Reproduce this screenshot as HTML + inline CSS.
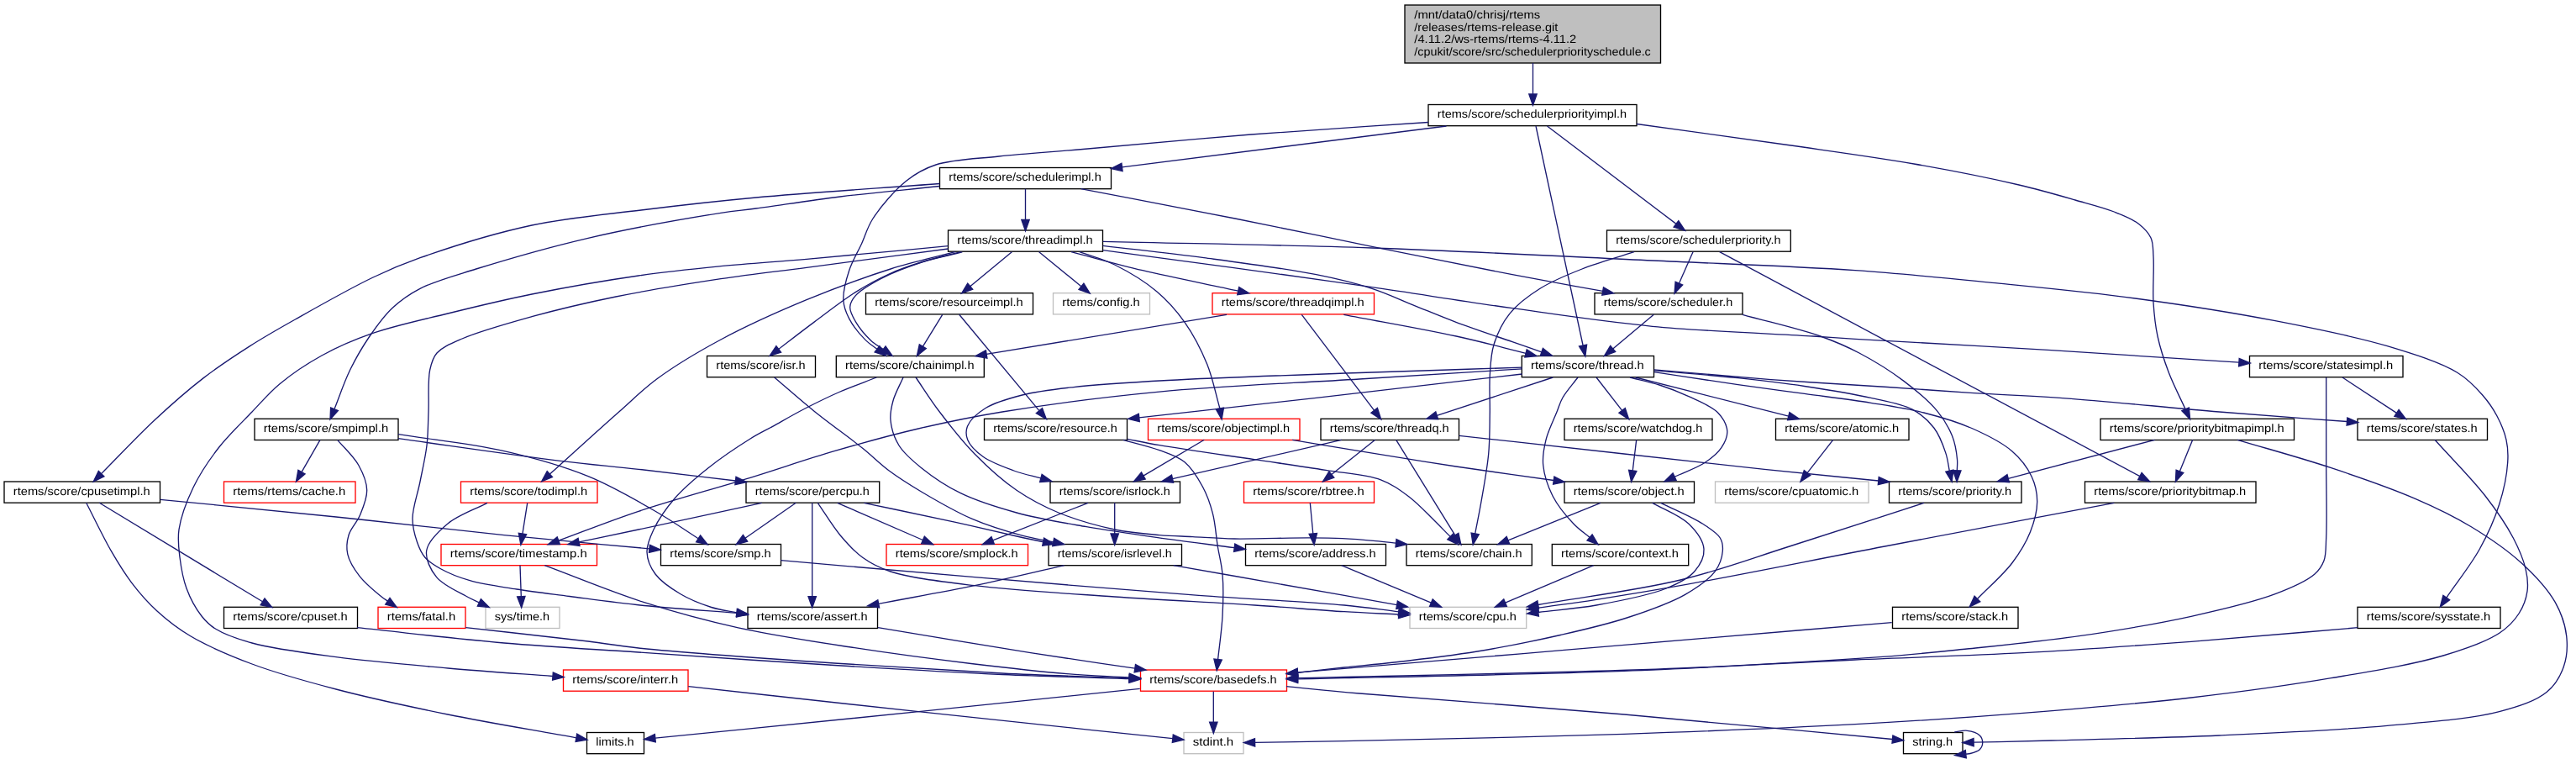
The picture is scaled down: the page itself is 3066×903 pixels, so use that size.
<!DOCTYPE html><html><head><meta charset="utf-8"><title>Include dependency graph</title><style>
html,body{margin:0;padding:0;background:#fff}svg{display:block}
text{font-family:"Liberation Sans",sans-serif;font-size:13.6px;fill:#000;text-rendering:geometricPrecision}
.e path{fill:none;stroke:#191970;stroke-width:1.33}.e polygon{fill:#191970;stroke:#191970;stroke-width:1.33}
rect{fill:#fff;stroke-width:1.33}
</style></head><body>
<svg width="3066" height="903" viewBox="0 0 3066 903">
<rect x="0" y="0" width="3066" height="903" style="fill:#fff;stroke:none"/>
<rect x="1672" y="6" width="304.5" height="69" style="fill:#bfbfbf;stroke:#000"/>
<rect x="1700.0" y="124.5" width="248.0" height="25.2" style="stroke:#000000"/>
<rect x="1118.5" y="199.5" width="204.0" height="25.2" style="stroke:#000000"/>
<rect x="1128.5" y="274.0" width="184.0" height="25.2" style="stroke:#000000"/>
<rect x="1912.5" y="274.0" width="218.8" height="25.2" style="stroke:#000000"/>
<rect x="1030.5" y="348.7" width="199.0" height="25.2" style="stroke:#000000"/>
<rect x="1253.5" y="348.7" width="115.0" height="25.2" style="stroke:#bfbfbf"/>
<rect x="1443.0" y="348.7" width="192.5" height="25.2" style="stroke:#ff0000"/>
<rect x="1898.0" y="348.7" width="176.0" height="25.2" style="stroke:#000000"/>
<rect x="841.5" y="423.5" width="129.0" height="25.2" style="stroke:#000000"/>
<rect x="995.3" y="423.5" width="176.0" height="25.2" style="stroke:#000000"/>
<rect x="1811.3" y="423.5" width="157.2" height="25.2" style="stroke:#000000"/>
<rect x="2677.5" y="423.5" width="182.5" height="25.2" style="stroke:#000000"/>
<rect x="303.0" y="498.3" width="171.0" height="25.2" style="stroke:#000000"/>
<rect x="1171.5" y="498.3" width="170.0" height="25.2" style="stroke:#000000"/>
<rect x="1366.5" y="498.3" width="180.5" height="25.2" style="stroke:#ff0000"/>
<rect x="1572.0" y="498.3" width="164.5" height="25.2" style="stroke:#000000"/>
<rect x="1862.0" y="498.3" width="176.0" height="25.2" style="stroke:#000000"/>
<rect x="2113.5" y="498.3" width="158.5" height="25.2" style="stroke:#000000"/>
<rect x="2500.0" y="498.3" width="230.5" height="25.2" style="stroke:#000000"/>
<rect x="2806.0" y="498.3" width="154.5" height="25.2" style="stroke:#000000"/>
<rect x="5.0" y="573.0" width="185.5" height="25.2" style="stroke:#000000"/>
<rect x="266.5" y="573.0" width="156.5" height="25.2" style="stroke:#ff0000"/>
<rect x="548.5" y="573.0" width="162.5" height="25.2" style="stroke:#ff0000"/>
<rect x="888.0" y="573.0" width="158.7" height="25.2" style="stroke:#000000"/>
<rect x="1250.0" y="573.0" width="154.5" height="25.2" style="stroke:#000000"/>
<rect x="1480.5" y="573.0" width="155.0" height="25.2" style="stroke:#ff0000"/>
<rect x="1862.0" y="573.0" width="154.5" height="25.2" style="stroke:#000000"/>
<rect x="2041.5" y="573.0" width="182.5" height="25.2" style="stroke:#bfbfbf"/>
<rect x="2248.5" y="573.0" width="157.5" height="25.2" style="stroke:#000000"/>
<rect x="2481.5" y="573.0" width="203.5" height="25.2" style="stroke:#000000"/>
<rect x="525.0" y="647.5" width="185.5" height="25.2" style="stroke:#ff0000"/>
<rect x="786.5" y="647.5" width="143.0" height="25.2" style="stroke:#000000"/>
<rect x="1055.0" y="647.5" width="168.5" height="25.2" style="stroke:#ff0000"/>
<rect x="1248.0" y="647.5" width="158.5" height="25.2" style="stroke:#000000"/>
<rect x="1482.5" y="647.5" width="167.0" height="25.2" style="stroke:#000000"/>
<rect x="1674.0" y="647.5" width="149.3" height="25.2" style="stroke:#000000"/>
<rect x="1847.3" y="647.5" width="162.4" height="25.2" style="stroke:#000000"/>
<rect x="266.5" y="722.3" width="159.0" height="25.2" style="stroke:#000000"/>
<rect x="450.0" y="722.3" width="104.0" height="25.2" style="stroke:#ff0000"/>
<rect x="578.0" y="722.3" width="88.0" height="25.2" style="stroke:#bfbfbf"/>
<rect x="890.0" y="722.3" width="154.5" height="25.2" style="stroke:#000000"/>
<rect x="1678.0" y="722.3" width="138.7" height="25.2" style="stroke:#bfbfbf"/>
<rect x="2252.5" y="722.3" width="149.5" height="25.2" style="stroke:#000000"/>
<rect x="2806.0" y="722.3" width="170.0" height="25.2" style="stroke:#000000"/>
<rect x="670.5" y="797.0" width="148.5" height="25.2" style="stroke:#ff0000"/>
<rect x="1357.5" y="797.0" width="174.0" height="25.2" style="stroke:#ff0000"/>
<rect x="698.5" y="871.5" width="68.0" height="25.2" style="stroke:#000000"/>
<rect x="1409.0" y="871.5" width="71.0" height="25.2" style="stroke:#bfbfbf"/>
<rect x="2265.5" y="871.5" width="70.5" height="25.2" style="stroke:#000000"/>
<g class="e">
<path d="M1824.5,75.0L1824.5,111.9"/><polygon points="1824.5,125.2 1819.8,111.9 1829.2,111.9"/>
<path d="M1700.0,145.5C1629.7,150.3 1558.4,154.6 1489.0,160.0C1421.4,165.3 1344.2,172.7 1289.0,177.5C1250.0,180.9 1219.9,182.6 1189.0,186.0C1162.2,188.9 1133.8,189.5 1114.0,196.0C1099.6,200.7 1090.3,206.0 1079.0,215.0C1065.1,226.0 1048.2,245.8 1039.0,260.0C1032.2,270.5 1030.1,279.9 1025.5,290.0C1020.7,300.4 1014.3,310.6 1010.7,321.7C1007.0,333.0 1003.2,346.9 1003.8,357.3C1004.3,365.5 1006.9,371.9 1010.7,379.1C1015.2,387.7 1024.1,398.5 1030.5,404.9C1035.1,409.5 1039.5,411.8 1044.0,415.3"/><polygon points="1054.6,423.4 1041.1,419.0 1046.9,411.6"/>
<path d="M1721.5,150.0L1335.5,198.9"/><polygon points="1322.3,200.6 1334.9,194.3 1336.1,203.6"/>
<path d="M1828.0,150.0L1884.1,411.0"/><polygon points="1886.8,424.0 1879.5,412.0 1888.6,410.0"/>
<path d="M1841.5,150.0L1995.0,266.4"/><polygon points="2005.6,274.4 1992.1,270.1 1997.8,262.6"/>
<path d="M1948.0,147.5C2008.0,155.8 2070.8,164.2 2128.0,172.5C2180.3,180.1 2230.4,186.7 2278.0,195.0C2321.7,202.6 2367.9,211.8 2403.0,220.0C2428.9,226.1 2449.8,232.2 2470.0,238.0C2486.9,242.8 2502.9,246.7 2516.3,252.0C2527.2,256.3 2537.4,260.2 2545.0,266.0C2551.4,270.9 2557.0,276.5 2560.0,283.0C2563.0,289.5 2562.4,296.0 2563.0,305.0C2564.0,319.2 2562.0,343.2 2563.0,360.0C2563.9,374.4 2565.1,386.5 2568.0,400.0C2571.1,414.3 2575.9,429.0 2581.3,443.3C2586.9,458.0 2594.5,472.3 2601.1,486.8"/><polygon points="2606.6,498.9 2596.8,488.8 2605.4,484.9"/>
<path d="M1118.5,218.5C1045.7,224.0 964.3,229.1 900.0,235.0C849.0,239.7 808.0,244.4 763.0,250.0C719.1,255.4 676.2,258.8 633.0,268.0C588.6,277.5 534.6,294.5 500.0,306.7C477.1,314.8 464.7,320.1 444.0,330.0C416.7,343.0 378.0,365.0 351.4,380.0C330.9,391.5 315.5,400.2 297.6,411.6C279.1,423.4 260.6,435.5 242.3,449.6C222.7,464.7 203.3,481.8 183.8,500.0C162.8,519.6 141.7,542.4 120.6,563.6"/><polygon points="111.2,573.0 117.3,560.3 123.9,566.9"/>
<path d="M1118.5,221.5C1079.0,225.7 1037.8,229.4 1000.0,234.0C965.2,238.3 926.2,244.5 900.0,248.0C883.0,250.3 876.4,250.4 858.0,253.3C822.1,259.0 750.2,271.6 700.0,283.3C653.5,294.1 603.4,308.6 566.7,320.0C540.5,328.2 517.9,334.1 500.0,343.3C486.4,350.3 476.6,357.4 466.7,366.7C456.6,376.2 448.2,388.1 440.0,400.0C431.5,412.4 423.6,425.9 416.7,440.0C409.5,454.7 404.2,471.1 398.0,486.6"/><polygon points="393.0,498.9 393.6,484.9 402.4,488.4"/>
<path d="M1220.5,224.7L1220.5,261.4"/><polygon points="1220.5,274.7 1215.8,261.4 1225.2,261.4"/>
<path d="M1286.5,224.7C1347.7,236.5 1410.7,248.2 1470.0,260.0C1526.0,271.1 1578.3,282.2 1633.0,293.3C1688.3,304.5 1750.4,317.2 1800.0,326.7C1839.8,334.3 1871.7,339.9 1907.6,346.4"/><polygon points="1920.7,348.8 1906.8,351.1 1908.5,341.8"/>
<path d="M1128.5,292.7C1072.3,297.9 1009.2,304.0 960.0,308.3C921.8,311.6 891.6,313.4 858.0,316.7C825.0,320.0 794.7,323.0 760.0,328.0C720.3,333.7 672.7,342.0 633.0,350.0C597.6,357.1 565.4,365.0 533.0,373.0C502.1,380.6 469.6,387.4 443.0,396.7C420.6,404.5 401.7,412.7 383.0,423.0C365.1,432.9 347.4,444.7 333.0,456.7C320.3,467.2 311.4,478.1 300.0,490.0C287.2,503.3 271.8,517.8 260.0,533.0C248.5,547.8 237.9,563.6 230.0,580.0C222.3,596.0 215.3,614.9 213.0,630.0C211.2,642.0 212.6,651.7 214.0,663.0C215.5,675.0 217.7,688.3 222.0,700.0C226.3,711.6 233.3,724.5 240.0,733.0C245.2,739.6 249.3,743.7 256.7,748.3C267.3,754.9 282.3,760.2 300.0,765.0C326.2,772.2 364.2,776.9 400.0,781.7C441.2,787.2 489.6,791.1 533.3,795.0C575.5,798.7 616.4,801.4 657.9,804.5"/><polygon points="671.2,805.6 657.6,809.2 658.3,799.9"/>
<path d="M1128.5,296.0C1072.3,303.4 1009.2,311.8 960.0,318.3C921.8,323.3 893.7,326.3 858.0,331.7C818.4,337.7 772.2,345.0 733.0,353.0C697.7,360.2 664.6,368.0 633.0,376.7C603.9,384.8 570.4,394.1 550.0,403.0C537.1,408.6 526.4,412.8 520.0,420.0C515.0,425.7 513.5,431.6 511.7,440.0C508.9,452.7 510.7,474.3 510.0,490.0C509.4,504.1 509.6,516.5 508.0,530.0C506.3,544.1 502.8,558.6 500.0,573.0C497.2,587.5 491.1,603.7 491.0,616.7C490.9,627.1 493.7,636.8 496.5,645.0C498.9,651.9 501.3,657.8 505.7,663.0C510.5,668.6 517.3,672.8 525.0,677.0C534.5,682.3 546.2,686.9 559.2,690.7C575.3,695.4 595.8,697.9 615.0,701.0C635.3,704.2 655.2,706.5 678.0,709.5C705.0,713.0 735.5,717.3 766.7,720.5C801.4,724.0 840.2,726.4 876.9,729.3"/><polygon points="890.2,730.4 876.6,734.0 877.3,724.6"/>
<path d="M1136.7,299.7C1111.1,306.5 1087.0,311.5 1060.0,320.0C1028.7,329.9 993.2,342.9 960.0,356.7C925.9,370.8 889.0,387.4 858.0,404.0C830.6,418.7 804.5,434.3 783.0,450.0C765.1,463.1 754.3,474.5 736.7,490.0C713.1,510.8 681.8,539.4 654.4,564.1"/><polygon points="644.5,573.0 651.2,560.6 657.5,567.6"/>
<path d="M1143.3,299.7C1128.1,303.6 1112.3,307.0 1097.8,311.5C1084.0,315.8 1071.2,320.1 1058.2,326.0C1044.8,332.0 1032.2,338.8 1018.6,347.4C1002.7,357.4 984.9,371.4 969.1,383.1C954.4,394.0 940.8,404.6 926.7,415.4"/><polygon points="916.1,423.4 923.9,411.6 929.6,419.1"/>
<path d="M1145.3,299.9C1129.5,303.9 1113.6,306.7 1097.8,311.8C1081.3,317.1 1062.4,324.2 1048.3,331.6C1036.8,337.7 1024.6,344.6 1018.6,351.4C1014.6,355.9 1011.9,360.2 1011.7,365.2C1011.4,370.7 1015.1,377.1 1018.6,383.1C1022.8,390.3 1030.4,399.2 1036.4,404.9C1041.3,409.5 1046.3,412.1 1051.3,415.6"/><polygon points="1062.1,423.4 1048.5,419.4 1054.0,411.8"/>
<path d="M1204.3,299.7L1154.7,340.7"/><polygon points="1144.5,349.1 1151.7,337.1 1157.7,344.3"/>
<path d="M1236.7,299.7L1286.9,340.7"/><polygon points="1297.2,349.1 1284.0,344.4 1289.9,337.1"/>
<path d="M1275.0,299.7C1303.3,307.0 1329.5,314.5 1360.0,321.7C1395.1,330.0 1435.8,337.9 1473.7,346.1"/><polygon points="1486.7,348.8 1472.7,350.7 1474.7,341.5"/>
<path d="M1285.0,299.7C1298.9,304.8 1312.6,308.0 1326.7,315.0C1343.0,323.1 1362.4,334.7 1376.7,346.7C1389.8,357.7 1400.2,369.5 1410.0,383.3C1420.4,398.1 1429.7,416.0 1436.7,433.3C1443.6,450.3 1446.8,468.4 1451.9,485.9"/><polygon points="1454.1,499.0 1447.2,486.7 1456.5,485.1"/>
<path d="M1312.7,292.3C1352.8,297.1 1391.9,301.2 1433.0,306.7C1476.4,312.5 1530.0,319.4 1566.7,326.7C1592.8,331.9 1612.7,336.7 1633.0,343.3C1651.1,349.1 1666.3,356.6 1683.0,363.3C1699.7,370.0 1715.0,376.6 1733.0,383.3C1753.6,391.0 1781.3,400.2 1800.0,406.7C1813.5,411.4 1823.2,414.8 1834.8,418.8"/><polygon points="1847.4,423.2 1833.3,423.3 1836.4,414.4"/>
<path d="M1312.7,297.7C1364.0,304.6 1414.4,311.1 1466.7,318.3C1521.1,325.8 1577.5,333.6 1633.0,341.7C1688.6,349.8 1744.3,358.9 1800.0,366.7C1855.6,374.5 1909.1,382.8 1966.7,388.3C2028.2,394.2 2114.9,397.3 2158.0,400.0C2180.1,401.4 2185.2,401.9 2208.0,403.3C2257.2,406.3 2364.4,412.0 2441.3,416.7C2516.6,421.3 2590.4,426.4 2664.9,431.2"/><polygon points="2678.2,432.0 2664.6,435.9 2665.2,426.5"/>
<path d="M1312.7,287.3C1419.5,289.9 1525.1,291.3 1633.0,295.0C1743.2,298.8 1864.7,305.2 1967.0,310.0C2053.9,314.1 2135.1,316.7 2208.0,321.7C2268.7,325.9 2319.2,331.2 2374.7,336.7C2430.3,342.3 2485.9,347.5 2541.3,355.0C2597.0,362.5 2655.7,371.6 2708.0,381.7C2755.1,390.8 2802.4,400.0 2841.3,411.7C2872.7,421.1 2904.6,431.1 2924.7,443.3C2938.2,451.5 2946.5,460.7 2954.7,470.0C2961.8,478.1 2967.3,486.1 2972.0,495.0C2976.7,503.9 2980.9,513.8 2983.0,523.3C2985.0,532.2 2985.4,539.8 2984.7,550.0C2983.8,564.1 2980.0,583.4 2974.7,600.0C2969.1,617.8 2961.1,635.6 2951.3,653.3C2940.5,672.7 2925.0,691.8 2911.8,711.1"/><polygon points="2904.3,722.1 2907.9,708.4 2915.7,713.7"/>
<path d="M1945.0,299.7C1924.3,306.5 1902.3,312.4 1883.0,320.0C1865.2,327.0 1847.8,333.9 1833.0,343.3C1819.3,351.9 1806.0,361.7 1796.7,373.3C1788.0,384.1 1781.9,397.4 1778.0,410.0C1774.3,421.9 1774.1,433.9 1773.3,446.7C1772.4,460.5 1773.5,475.0 1773.3,490.0C1773.0,506.1 1773.3,522.9 1771.7,540.0C1770.0,558.4 1765.9,579.7 1763.0,596.7C1760.6,610.7 1758.1,622.2 1755.7,634.9"/><polygon points="1753.2,648.0 1751.1,634.0 1760.3,635.8"/>
<path d="M2015.0,299.7L1998.4,337.2"/><polygon points="1993.0,349.3 1994.1,335.3 2002.7,339.1"/>
<path d="M2046.7,299.7L2546.9,566.6"/><polygon points="2558.6,572.8 2544.7,570.7 2549.1,562.4"/>
<path d="M1121.7,374.3L1098.3,412.3"/><polygon points="1091.3,423.6 1094.3,409.8 1102.3,414.7"/>
<path d="M1141.7,374.3L1236.9,488.6"/><polygon points="1245.4,498.8 1233.3,491.6 1240.5,485.6"/>
<path d="M1460.0,374.3L1174.1,421.4"/><polygon points="1161.0,423.6 1173.4,416.8 1174.9,426.1"/>
<path d="M1549.3,374.3L1635.7,488.3"/><polygon points="1643.7,498.9 1631.9,491.1 1639.4,485.4"/>
<path d="M1599.3,374.3C1644.0,382.9 1694.1,391.4 1733.3,400.0C1764.3,406.8 1788.5,413.5 1816.1,420.3"/><polygon points="1829.0,423.5 1814.9,424.9 1817.2,415.7"/>
<path d="M1968.3,374.3L1919.7,414.9"/><polygon points="1909.5,423.4 1916.7,411.3 1922.7,418.5"/>
<path d="M2074.0,374.3C2104.9,382.9 2141.4,391.1 2166.7,400.0C2185.0,406.5 2197.3,411.8 2212.9,420.0C2230.4,429.2 2250.3,441.5 2266.3,453.6C2281.0,464.7 2295.8,477.1 2305.8,489.2C2313.8,498.9 2319.6,508.8 2323.6,518.8C2327.2,527.9 2328.8,538.9 2329.5,546.5C2330.0,551.7 2329.4,555.4 2329.3,559.9"/><polygon points="2329.1,573.2 2324.6,559.8 2334.0,560.0"/>
<path d="M921.7,449.0C937.8,462.7 953.1,476.4 970.0,490.0C988.0,504.5 1010.7,520.4 1026.7,533.3C1038.9,543.1 1046.8,551.5 1058.2,560.0C1070.4,569.1 1083.1,577.0 1097.8,585.7C1115.4,596.1 1137.0,608.7 1157.2,617.4C1176.7,625.8 1199.0,632.4 1216.6,637.2C1230.3,640.9 1241.3,642.4 1253.7,645.0"/><polygon points="1266.7,647.7 1252.7,649.6 1254.6,640.4"/>
<path d="M1043.3,449.0C1028.5,454.8 1013.1,460.3 998.8,466.5C985.1,472.5 972.3,478.8 959.2,485.5C945.9,492.3 931.5,500.7 919.6,507.3C909.9,512.7 903.1,515.7 893.0,522.0C878.7,530.9 858.4,544.5 843.0,556.7C828.5,568.2 814.2,580.1 803.0,593.0C792.9,604.7 783.6,618.3 778.0,630.0C773.6,639.3 769.7,647.9 770.0,656.7C770.3,665.6 774.2,675.2 780.0,683.0C786.7,692.1 799.0,700.2 810.0,706.7C821.2,713.4 834.9,718.7 846.7,722.5C857.2,725.8 867.0,726.8 877.2,728.9"/><polygon points="890.2,731.6 876.2,733.5 878.1,724.3"/>
<path d="M1075.0,449.0C1071.0,458.2 1065.5,467.7 1063.0,476.7C1060.8,484.6 1059.2,491.8 1060.0,500.0C1060.9,509.5 1064.4,520.9 1070.0,530.0C1076.2,540.0 1086.0,548.1 1096.7,556.7C1109.6,567.1 1125.8,578.2 1143.3,586.7C1163.0,596.3 1186.3,603.5 1210.0,610.0C1235.9,617.1 1264.0,621.6 1293.0,626.7C1324.7,632.3 1361.9,637.3 1393.0,641.7C1420.1,645.5 1443.8,648.3 1469.2,651.7"/><polygon points="1482.4,653.4 1468.6,656.3 1469.8,647.0"/>
<path d="M1090.0,449.0C1099.4,462.7 1107.6,475.9 1118.3,490.0C1130.5,506.1 1144.8,524.5 1160.0,540.0C1175.3,555.6 1192.6,571.4 1210.0,583.3C1226.1,594.3 1241.7,602.5 1260.0,610.0C1280.3,618.3 1305.5,625.5 1326.7,630.0C1345.3,633.9 1363.5,635.2 1380.0,636.6C1394.2,637.8 1405.7,637.9 1419.6,638.6C1435.2,639.4 1450.2,640.7 1469.1,641.0C1494.5,641.4 1534.4,639.7 1558.2,639.8C1574.0,639.9 1584.6,640.0 1597.8,640.6C1611.0,641.2 1625.8,642.5 1637.4,643.6C1646.4,644.4 1653.4,645.3 1661.5,646.2"/><polygon points="1674.7,647.6 1661.0,650.8 1662.0,641.5"/>
<path d="M1811.7,437.2C1747.1,439.3 1685.2,441.1 1618.0,443.5C1545.1,446.1 1452.9,449.0 1390.0,452.5C1345.5,455.0 1307.8,457.2 1276.0,460.8C1252.9,463.4 1234.7,465.4 1216.6,470.0C1200.8,474.0 1184.5,478.4 1173.1,485.5C1163.9,491.3 1154.7,499.4 1151.7,506.7C1149.4,512.1 1149.6,517.9 1151.7,523.3C1154.4,530.2 1162.1,537.6 1170.0,543.3C1179.6,550.3 1194.7,555.6 1206.7,560.0C1217.6,564.0 1228.1,566.0 1238.9,568.9"/><polygon points="1251.7,572.5 1237.6,573.5 1240.1,564.4"/>
<path d="M1811.7,438.8C1747.1,442.9 1685.9,446.7 1618.0,451.0C1542.7,455.8 1454.4,459.0 1380.0,466.1C1313.8,472.4 1245.5,481.4 1193.0,490.0C1154.4,496.3 1126.2,502.3 1093.0,510.0C1059.5,517.8 1026.2,527.0 993.0,536.7C959.6,546.4 928.7,557.3 893.0,568.3C851.9,581.0 800.5,594.8 760.0,608.3C725.4,619.8 696.6,631.5 664.8,643.2"/><polygon points="652.3,647.7 663.2,638.8 666.4,647.6"/>
<path d="M1811.7,445.0C1730.0,454.4 1645.3,464.4 1566.7,473.3C1493.8,481.6 1426.1,489.0 1355.8,496.9"/><polygon points="1342.6,498.4 1355.3,492.2 1356.3,501.6"/>
<path d="M1848.3,449.0L1710.3,494.4"/><polygon points="1697.6,498.5 1708.8,489.9 1711.7,498.8"/>
<path d="M1878.0,449.0C1872.0,457.0 1864.3,465.4 1860.0,473.0C1856.6,478.9 1855.7,483.4 1853.0,490.0C1849.3,499.2 1842.7,512.3 1840.0,523.3C1837.5,533.4 1835.7,542.9 1836.7,553.3C1837.8,565.0 1842.2,578.5 1848.0,590.0C1854.1,601.9 1864.7,614.6 1873.0,623.3C1879.4,630.1 1885.7,634.0 1892.1,639.4"/><polygon points="1902.2,648.0 1889.0,643.0 1895.1,635.8"/>
<path d="M1900.0,449.0L1930.6,488.3"/><polygon points="1938.7,498.9 1926.9,491.2 1934.3,485.5"/>
<path d="M1940.0,449.0C1951.7,452.0 1963.5,454.3 1975.0,458.0C1986.6,461.7 1997.9,466.1 2009.3,471.4C2021.2,477.0 2037.1,483.0 2044.9,491.2C2050.9,497.5 2055.3,505.7 2055.8,512.9C2056.2,519.6 2052.8,526.7 2048.8,532.7C2044.3,539.4 2037.0,545.2 2029.0,550.5C2019.2,557.0 2005.1,561.6 1993.1,567.2"/><polygon points="1981.1,572.8 1991.1,562.9 1995.1,571.4"/>
<path d="M1946.7,449.0L2128.8,495.2"/><polygon points="2141.7,498.5 2127.6,499.8 2129.9,490.6"/>
<path d="M1968.8,440.8C2002.1,443.8 2037.3,446.4 2068.6,449.7C2096.5,452.7 2121.4,455.6 2147.7,459.5C2174.1,463.5 2203.5,468.1 2226.7,473.4C2245.2,477.6 2263.0,480.2 2276.2,487.2C2286.9,492.9 2295.2,500.4 2301.8,509.0C2308.3,517.5 2312.6,529.3 2315.7,538.6C2318.3,546.2 2318.8,553.0 2320.3,560.2"/><polygon points="2323.1,573.2 2315.8,561.2 2324.9,559.2"/>
<path d="M1968.8,442.7C2002.1,447.7 2037.3,453.1 2068.6,457.6C2096.5,461.6 2121.3,464.8 2147.7,468.4C2174.0,472.0 2201.9,475.3 2226.7,479.3C2248.9,482.9 2269.3,485.8 2289.7,491.0C2309.7,496.1 2330.0,502.0 2348.0,510.0C2364.8,517.5 2382.6,526.2 2394.7,536.7C2404.9,545.5 2413.0,556.1 2418.0,566.7C2422.5,576.2 2424.7,586.2 2424.7,596.7C2424.7,608.3 2421.0,621.4 2416.3,633.3C2411.3,645.9 2403.9,657.9 2394.7,670.0C2383.8,684.3 2367.2,698.3 2353.5,712.5"/><polygon points="2344.2,722.0 2350.1,709.2 2356.8,715.7"/>
<path d="M1968.8,439.8C2015.2,443.7 2061.6,448.1 2108.0,451.6C2154.2,455.0 2204.2,457.7 2246.5,460.5C2282.2,462.9 2311.3,465.2 2345.3,467.4C2381.6,469.7 2415.9,470.7 2458.0,473.8C2511.7,477.7 2583.0,485.2 2641.3,490.0C2694.4,494.4 2742.7,497.7 2793.4,501.5"/><polygon points="2806.7,502.6 2793.1,506.2 2793.8,496.9"/>
<path d="M2768.7,449.0C2768.7,482.7 2768.7,517.3 2768.7,550.0C2768.7,580.9 2769.8,618.8 2768.7,640.0C2768.1,651.6 2768.8,659.4 2766.0,667.0C2763.6,673.5 2760.7,678.1 2754.7,683.3C2745.0,691.7 2726.9,699.5 2708.0,706.7C2681.3,716.8 2643.9,725.4 2608.0,733.3C2566.9,742.3 2519.3,750.2 2474.7,756.7C2430.3,763.1 2382.8,767.7 2341.0,772.0C2304.2,775.8 2278.7,778.6 2237.0,781.7C2174.1,786.4 2075.7,791.7 2000.0,795.0C1930.5,798.0 1866.7,799.2 1800.0,801.0C1733.3,802.7 1646.0,804.5 1600.0,805.5C1575.8,806.0 1563.1,806.3 1544.6,806.7"/><polygon points="1531.3,807.0 1544.5,802.0 1544.7,811.4"/>
<path d="M2788.0,449.0L2852.5,491.4"/><polygon points="2863.6,498.7 2849.9,495.3 2855.1,487.5"/>
<path d="M381.0,523.3L359.0,561.6"/><polygon points="352.4,573.1 354.9,559.2 363.1,563.9"/>
<path d="M401.7,523.3C410.0,533.3 420.8,542.7 426.7,553.3C432.0,562.8 436.5,573.3 436.7,583.3C436.9,593.3 432.1,604.1 428.3,613.3C424.7,621.8 417.3,628.7 415.0,636.7C412.8,644.1 412.1,651.8 413.8,659.4C415.7,668.0 421.4,677.0 427.7,685.1C434.8,694.3 449.4,706.2 455.4,711.0C458.0,713.1 459.4,713.7 461.3,715.1"/><polygon points="472.3,722.7 458.7,719.0 464.0,711.3"/>
<path d="M474.0,516.7C516.0,523.4 560.7,527.7 600.0,536.7C635.5,544.8 668.8,554.0 700.0,566.7C729.6,578.7 759.3,596.3 783.0,610.0C801.5,620.7 815.1,630.5 831.1,640.7"/><polygon points="842.3,647.9 828.6,644.7 833.6,636.8"/>
<path d="M474.0,521.7C538.2,530.6 613.9,541.8 666.7,548.3C703.3,552.8 727.3,554.6 760.0,558.3C796.5,562.4 837.0,567.4 875.5,572.0"/><polygon points="888.7,573.6 874.9,576.7 876.0,567.3"/>
<path d="M1336.7,523.3C1351.1,527.4 1367.1,530.8 1380.0,535.6C1391.0,539.7 1401.3,542.6 1409.7,549.5C1418.6,556.8 1425.8,568.7 1431.5,579.2C1436.9,589.2 1440.5,599.6 1443.4,610.9C1446.6,623.1 1447.3,637.5 1449.3,650.0C1451.2,661.6 1454.0,671.0 1455.0,683.3C1456.3,698.2 1455.9,716.6 1455.0,733.3C1454.1,750.3 1451.4,767.4 1449.6,784.5"/><polygon points="1448.2,797.7 1444.9,784.0 1454.3,785.0"/>
<path d="M1341.7,522.3C1354.5,524.8 1363.8,526.9 1380.0,529.7C1407.7,534.5 1458.0,541.5 1493.0,546.7C1523.3,551.2 1551.5,555.1 1578.0,559.4C1601.3,563.2 1625.7,564.2 1643.4,570.8C1657.0,575.9 1666.5,583.1 1677.0,591.0C1687.7,599.1 1697.9,610.2 1706.7,618.8C1713.9,625.9 1719.7,632.0 1726.2,638.5"/><polygon points="1735.5,648.0 1722.8,641.8 1729.5,635.2"/>
<path d="M1433.3,523.3L1360.8,566.1"/><polygon points="1349.4,572.9 1358.5,562.0 1363.2,570.1"/>
<path d="M1538.3,523.3C1564.9,527.8 1589.0,532.0 1618.0,536.7C1652.8,542.4 1694.5,549.2 1733.0,555.0C1771.6,560.8 1810.5,566.0 1849.2,571.5"/><polygon points="1862.4,573.4 1848.6,576.2 1849.9,566.9"/>
<path d="M1596.7,523.3L1395.6,569.7"/><polygon points="1382.6,572.7 1394.5,565.1 1396.6,574.2"/>
<path d="M1636.7,523.3L1584.9,564.6"/><polygon points="1574.5,572.9 1581.9,561.0 1587.8,568.3"/>
<path d="M1661.7,523.3L1731.9,636.8"/><polygon points="1738.9,648.1 1727.9,639.3 1735.9,634.3"/>
<path d="M1736.7,518.3C1802.1,525.5 1870.2,533.1 1933.0,540.0C1990.9,546.4 2047.2,552.7 2100.0,558.3C2147.6,563.3 2190.5,567.5 2235.8,572.0"/><polygon points="2249.0,573.4 2235.3,576.7 2236.2,567.4"/>
<path d="M1947.7,523.3L1943.2,560.0"/><polygon points="1941.6,573.2 1938.6,559.4 1947.9,560.6"/>
<path d="M2181.7,523.3L2151.1,562.6"/><polygon points="2142.9,573.1 2147.3,559.7 2154.8,565.5"/>
<path d="M2564.7,523.3L2390.2,569.3"/><polygon points="2377.3,572.7 2389.0,564.7 2391.4,573.8"/>
<path d="M2609.7,523.3L2594.4,560.8"/><polygon points="2589.4,573.1 2590.1,559.1 2598.8,562.6"/>
<path d="M2663.0,523.3C2700.2,534.4 2738.7,544.7 2774.7,556.7C2809.1,568.1 2845.1,580.5 2874.7,593.3C2899.5,604.0 2920.2,613.9 2941.3,626.7C2962.4,639.5 2984.1,654.2 3001.3,670.0C3017.0,684.4 3032.3,700.8 3041.3,716.7C3048.7,729.8 3053.2,743.5 3054.7,756.7C3056.1,769.0 3055.2,782.2 3051.3,793.3C3047.4,804.3 3041.4,815.0 3031.3,823.3C3018.2,834.1 2998.1,840.5 2974.7,846.7C2940.1,855.8 2890.3,858.8 2841.3,863.3C2781.4,868.8 2708.0,872.0 2641.3,875.0C2574.7,877.9 2495.2,879.5 2441.3,881.0C2404.7,882.0 2379.8,882.5 2349.1,883.2"/><polygon points="2335.8,883.5 2349.0,878.5 2349.2,887.9"/>
<path d="M2898.0,523.3C2918.0,545.5 2941.5,568.8 2958.0,590.0C2971.5,607.4 2983.0,624.2 2991.3,640.0C2998.0,652.8 3003.3,665.3 3006.0,676.7C3008.2,686.1 3009.2,694.6 3008.0,703.3C3006.7,712.3 3003.2,721.9 2998.0,730.0C2992.4,738.7 2985.4,746.2 2974.7,753.3C2958.9,763.7 2934.5,772.1 2908.0,780.0C2871.6,790.8 2821.7,798.7 2774.7,806.7C2722.4,815.6 2666.2,823.3 2608.0,830.0C2544.4,837.3 2474.7,843.0 2408.0,848.3C2341.4,853.6 2280.0,857.8 2208.0,861.7C2123.7,866.3 2029.3,870.1 1933.3,873.3C1827.6,876.9 1680.2,880.1 1600.0,881.7C1554.7,882.6 1529.1,882.8 1493.6,883.3"/><polygon points="1480.3,883.5 1493.5,878.6 1493.7,888.0"/>
<path d="M190.7,594.3C260.5,601.2 331.0,607.8 400.0,615.0C467.4,622.0 535.7,630.2 600.0,636.7C659.7,642.7 715.3,647.5 773.0,652.8"/><polygon points="786.2,654.1 772.5,657.5 773.4,648.2"/>
<path d="M118.3,598.3L312.5,715.8"/><polygon points="323.9,722.7 310.1,719.8 315.0,711.8"/>
<path d="M102.7,598.3C112.8,617.8 123.1,639.7 133.0,656.7C141.0,670.5 147.8,681.7 156.7,693.3C165.7,705.1 175.4,716.4 186.7,726.7C198.6,737.6 210.8,747.3 226.7,756.7C246.9,768.7 273.3,780.0 300.0,790.0C330.4,801.4 364.1,810.6 400.0,820.0C441.0,830.8 487.0,840.6 533.0,850.0C582.1,860.0 634.9,868.5 685.9,877.8"/><polygon points="699.0,880.1 685.1,882.4 686.7,873.1"/>
<path d="M627.7,598.3L621.9,635.1"/><polygon points="619.9,648.2 617.3,634.3 626.6,635.8"/>
<path d="M580.0,598.3C564.3,606.5 545.4,612.7 533.0,623.0C522.1,632.1 509.4,643.8 507.7,655.0C506.1,665.2 512.5,677.9 519.6,686.7C527.5,696.5 545.7,704.2 555.2,709.5C561.2,712.9 565.3,714.4 570.4,716.8"/><polygon points="582.3,722.6 568.3,721.1 572.4,712.6"/>
<path d="M906.7,598.3C857.8,608.9 800.1,621.4 760.0,630.0C732.1,635.9 712.7,639.9 689.0,644.9"/><polygon points="676.0,647.6 688.1,640.3 690.0,649.5"/>
<path d="M947.3,598.3L887.0,640.3"/><polygon points="876.1,647.9 884.4,636.4 889.7,644.2"/>
<path d="M966.7,598.3L966.7,709.7"/><polygon points="966.7,723.0 962.0,709.7 971.4,709.7"/>
<path d="M973.3,598.3C982.2,611.1 990.6,625.4 1000.0,636.7C1008.5,646.8 1016.7,656.1 1026.7,663.3C1036.7,670.5 1045.5,675.3 1060.0,680.0C1084.0,687.8 1122.3,692.1 1160.0,696.7C1208.4,702.7 1271.1,706.1 1326.7,710.0C1382.2,713.9 1443.9,716.7 1493.3,720.0C1532.8,722.6 1568.8,725.8 1600.0,727.7C1624.2,729.2 1643.1,729.9 1664.7,731.0"/><polygon points="1678.0,731.7 1664.5,735.7 1665.0,726.4"/>
<path d="M996.7,598.3L1098.4,642.5"/><polygon points="1110.6,647.8 1096.6,646.8 1100.3,638.2"/>
<path d="M1028.3,598.3C1064.7,606.0 1104.0,614.0 1137.4,621.4C1165.9,627.7 1197.6,635.3 1216.6,639.5C1227.3,641.8 1233.3,643.0 1241.7,644.7"/><polygon points="1254.7,647.4 1240.7,649.3 1242.6,640.1"/>
<path d="M1295.0,598.3L1181.7,642.9"/><polygon points="1169.3,647.8 1180.0,638.5 1183.4,647.3"/>
<path d="M1326.7,598.3L1326.7,634.9"/><polygon points="1326.7,648.2 1322.0,634.9 1331.4,634.9"/>
<path d="M1559.3,598.3L1562.8,635.0"/><polygon points="1564.1,648.2 1558.1,635.4 1567.5,634.5"/>
<path d="M1905.0,598.3L1795.0,642.8"/><polygon points="1782.7,647.8 1793.2,638.4 1796.7,647.1"/>
<path d="M1966.7,598.3C1981.1,606.6 1999.5,613.0 2010.0,623.3C2018.8,631.9 2027.3,643.4 2028.0,653.3C2028.6,662.3 2023.2,672.6 2016.7,680.0C2009.2,688.6 1997.5,694.2 1983.3,700.0C1962.3,708.6 1926.6,715.2 1900.0,720.0C1876.0,724.3 1853.9,725.6 1830.8,728.5"/><polygon points="1817.6,730.1 1830.2,723.8 1831.4,733.1"/>
<path d="M1976.7,598.3C1993.4,606.6 2014.0,615.1 2026.7,623.3C2035.4,628.9 2043.6,633.8 2047.3,640.0C2050.2,644.9 2050.8,650.1 2050.3,655.8C2049.7,663.0 2046.9,672.1 2041.4,679.6C2034.0,689.6 2020.3,699.0 2005.7,707.3C1987.0,718.0 1960.5,727.1 1936.4,735.0C1911.1,743.3 1885.2,749.1 1857.2,755.5C1826.1,762.6 1791.3,769.6 1758.2,775.0C1725.3,780.4 1688.0,784.7 1659.2,788.0C1637.0,790.6 1619.4,791.9 1600.0,794.0C1581.2,796.0 1563.0,798.2 1544.5,800.3"/><polygon points="1531.3,801.8 1544.0,795.6 1545.0,805.0"/>
<path d="M2290.0,598.3C2236.7,615.5 2180.6,634.0 2130.0,650.0C2084.5,664.4 2046.6,678.8 2000.0,690.0C1947.7,702.6 1887.1,709.7 1830.7,719.5"/><polygon points="1817.6,721.8 1829.9,714.9 1831.5,724.2"/>
<path d="M2516.3,598.3C2425.3,615.5 2331.7,633.2 2243.3,650.0C2159.9,665.9 2063.4,685.4 2000.0,696.7C1959.4,704.0 1930.3,708.6 1900.0,713.3C1874.8,717.2 1853.8,719.9 1830.8,723.2"/><polygon points="1817.6,725.1 1830.1,718.6 1831.4,727.9"/>
<path d="M619.0,672.7L620.3,709.7"/><polygon points="620.7,723.0 615.6,709.9 625.0,709.5"/>
<path d="M648.3,672.7C687.8,687.4 727.5,704.2 766.7,716.7C804.2,728.7 839.1,738.2 878.6,746.9C922.1,756.5 970.9,763.6 1017.2,770.7C1063.3,777.8 1111.8,784.2 1155.8,789.5C1195.7,794.3 1236.0,798.9 1270.0,801.7C1297.3,803.9 1319.4,804.5 1344.1,806.0"/><polygon points="1357.4,806.7 1343.9,810.7 1344.4,801.3"/>
<path d="M929.3,666.7C1006.2,673.4 1080.3,680.0 1160.0,686.7C1245.7,693.9 1347.3,702.4 1426.7,708.3C1490.7,713.0 1556.2,715.9 1600.0,720.0C1626.8,722.5 1643.2,725.2 1664.8,727.8"/><polygon points="1678.0,729.4 1664.2,732.5 1665.4,723.1"/>
<path d="M1266.7,672.7C1231.1,680.7 1196.2,689.2 1160.0,696.7C1122.6,704.4 1083.8,711.1 1045.7,718.4"/><polygon points="1032.6,720.8 1044.8,713.7 1046.6,723.0"/>
<path d="M1396.7,672.7C1464.5,684.6 1551.6,699.6 1600.0,708.3C1626.9,713.1 1641.7,715.9 1662.6,719.7"/><polygon points="1675.7,722.1 1661.8,724.4 1663.4,715.1"/>
<path d="M1596.7,672.7L1703.4,717.2"/><polygon points="1715.6,722.3 1701.6,721.5 1705.2,712.8"/>
<path d="M1896.7,672.7L1791.6,717.1"/><polygon points="1779.4,722.3 1789.8,712.8 1793.4,721.4"/>
<path d="M425.0,746.7C483.3,752.8 542.9,760.1 600.0,765.0C654.5,769.7 701.7,772.1 760.0,776.0C830.4,780.8 918.3,787.0 993.0,791.5C1062.2,795.7 1131.0,799.8 1193.0,802.5C1246.9,804.9 1293.7,805.9 1344.1,807.6"/><polygon points="1357.4,808.0 1343.9,812.3 1344.3,802.9"/>
<path d="M554.3,746.7C602.9,752.1 662.1,758.3 700.0,763.0C724.4,766.0 733.4,768.2 760.0,771.0C812.2,776.5 918.3,783.9 993.0,789.0C1062.2,793.7 1131.0,797.9 1193.0,801.0C1246.9,803.7 1293.7,804.9 1344.1,806.8"/><polygon points="1357.4,807.3 1343.9,811.5 1344.3,802.1"/>
<path d="M1045.0,746.7C1105.6,756.7 1171.9,768.1 1226.7,776.7C1272.0,783.8 1309.5,789.0 1350.8,795.1"/><polygon points="1364.0,797.1 1350.1,799.8 1351.5,790.5"/>
<path d="M2251.7,740.7C2145.6,749.6 2014.7,760.4 1933.3,767.3C1882.6,771.6 1856.5,773.9 1810.0,777.8C1749.3,782.9 1647.5,791.5 1600.0,795.4C1575.6,797.4 1563.0,798.4 1544.6,800.0"/><polygon points="1531.3,801.1 1544.2,795.3 1544.9,804.6"/>
<path d="M2806.3,746.7C2740.2,752.2 2674.3,758.3 2608.0,763.3C2541.5,768.3 2474.7,773.1 2408.0,776.7C2341.4,780.3 2279.9,781.8 2208.0,785.0C2123.7,788.8 2029.3,794.8 1933.3,798.3C1827.6,802.2 1664.4,805.3 1600.0,806.7C1573.8,807.3 1563.1,807.4 1544.6,807.8"/><polygon points="1531.3,808.0 1544.5,803.1 1544.7,812.5"/>
<path d="M819.3,816.7C910.6,826.7 999.7,836.6 1093.3,846.7C1191.6,857.3 1294.9,868.0 1395.8,878.7"/><polygon points="1409.0,880.1 1395.3,883.3 1396.3,874.0"/>
<path d="M1356.7,819.3C1268.9,828.4 1184.9,837.3 1093.3,846.7C993.4,856.9 884.3,867.7 779.8,878.2"/><polygon points="766.6,879.6 779.4,873.6 780.3,882.9"/>
<path d="M1444.3,822.7L1444.3,859.1"/><polygon points="1444.3,872.4 1439.6,859.1 1449.0,859.1"/>
<path d="M1531.0,816.7C1560.0,819.5 1580.0,821.7 1618.0,825.0C1690.4,831.3 1827.9,840.9 1933.3,850.0C2039.4,859.1 2146.1,869.7 2252.5,879.5"/><polygon points="2265.7,880.8 2252.0,884.2 2252.9,874.9"/>
<path d="M2326.3,871.0C2331.3,870.4 2336.4,868.7 2341.3,869.3C2346.4,869.9 2353.3,872.0 2356.3,875.0C2358.6,877.2 2359.7,880.7 2359.7,883.5C2359.7,886.3 2358.4,889.6 2356.3,891.7C2353.8,894.2 2348.1,895.7 2345.0,896.5C2343.0,897.0 2341.5,896.9 2339.8,897.1"/><polygon points="2326.6,898.6 2339.3,892.4 2340.3,901.8"/>
</g>
<defs><filter id="gs" x="0" y="0" width="100%" height="100%" filterUnits="userSpaceOnUse" color-interpolation-filters="sRGB"><feColorMatrix type="saturate" values="0"/></filter></defs><g filter="url(#gs)">
<text x="1683.3" y="22.0" textLength="150.0" lengthAdjust="spacingAndGlyphs">/mnt/data0/chrisj/rtems</text>
<text x="1683.3" y="36.7" textLength="171.0" lengthAdjust="spacingAndGlyphs">/releases/rtems-release.git</text>
<text x="1683.3" y="51.3" textLength="193.0" lengthAdjust="spacingAndGlyphs">/4.11.2/ws-rtems/rtems-4.11.2</text>
<text x="1683.3" y="66.0" textLength="281.5" lengthAdjust="spacingAndGlyphs">/cpukit/score/src/schedulerpriorityschedule.c</text>
<text x="1710.8" y="140.1" textLength="225.4" lengthAdjust="spacingAndGlyphs">rtems/score/schedulerpriorityimpl.h</text>
<text x="1129.3" y="215.1" textLength="181.4" lengthAdjust="spacingAndGlyphs">rtems/score/schedulerimpl.h</text>
<text x="1139.3" y="289.6" textLength="161.4" lengthAdjust="spacingAndGlyphs">rtems/score/threadimpl.h</text>
<text x="1923.3" y="289.6" textLength="196.2" lengthAdjust="spacingAndGlyphs">rtems/score/schedulerpriority.h</text>
<text x="1041.3" y="364.3" textLength="176.4" lengthAdjust="spacingAndGlyphs">rtems/score/resourceimpl.h</text>
<text x="1264.3" y="364.3" textLength="92.4" lengthAdjust="spacingAndGlyphs">rtems/config.h</text>
<text x="1453.8" y="364.3" textLength="169.9" lengthAdjust="spacingAndGlyphs">rtems/score/threadqimpl.h</text>
<text x="1908.8" y="364.3" textLength="153.4" lengthAdjust="spacingAndGlyphs">rtems/score/scheduler.h</text>
<text x="852.3" y="439.1" textLength="106.4" lengthAdjust="spacingAndGlyphs">rtems/score/isr.h</text>
<text x="1006.1" y="439.1" textLength="153.4" lengthAdjust="spacingAndGlyphs">rtems/score/chainimpl.h</text>
<text x="1822.1" y="439.1" textLength="134.6" lengthAdjust="spacingAndGlyphs">rtems/score/thread.h</text>
<text x="2688.3" y="439.1" textLength="159.9" lengthAdjust="spacingAndGlyphs">rtems/score/statesimpl.h</text>
<text x="313.8" y="513.9" textLength="148.4" lengthAdjust="spacingAndGlyphs">rtems/score/smpimpl.h</text>
<text x="1182.3" y="513.9" textLength="147.4" lengthAdjust="spacingAndGlyphs">rtems/score/resource.h</text>
<text x="1377.3" y="513.9" textLength="157.9" lengthAdjust="spacingAndGlyphs">rtems/score/objectimpl.h</text>
<text x="1582.8" y="513.9" textLength="141.9" lengthAdjust="spacingAndGlyphs">rtems/score/threadq.h</text>
<text x="1872.8" y="513.9" textLength="153.4" lengthAdjust="spacingAndGlyphs">rtems/score/watchdog.h</text>
<text x="2124.3" y="513.9" textLength="135.9" lengthAdjust="spacingAndGlyphs">rtems/score/atomic.h</text>
<text x="2510.8" y="513.9" textLength="207.9" lengthAdjust="spacingAndGlyphs">rtems/score/prioritybitmapimpl.h</text>
<text x="2816.8" y="513.9" textLength="131.9" lengthAdjust="spacingAndGlyphs">rtems/score/states.h</text>
<text x="15.8" y="588.6" textLength="162.9" lengthAdjust="spacingAndGlyphs">rtems/score/cpusetimpl.h</text>
<text x="277.3" y="588.6" textLength="133.9" lengthAdjust="spacingAndGlyphs">rtems/rtems/cache.h</text>
<text x="559.3" y="588.6" textLength="139.9" lengthAdjust="spacingAndGlyphs">rtems/score/todimpl.h</text>
<text x="898.8" y="588.6" textLength="136.1" lengthAdjust="spacingAndGlyphs">rtems/score/percpu.h</text>
<text x="1260.8" y="588.6" textLength="131.9" lengthAdjust="spacingAndGlyphs">rtems/score/isrlock.h</text>
<text x="1491.3" y="588.6" textLength="132.4" lengthAdjust="spacingAndGlyphs">rtems/score/rbtree.h</text>
<text x="1872.8" y="588.6" textLength="131.9" lengthAdjust="spacingAndGlyphs">rtems/score/object.h</text>
<text x="2052.3" y="588.6" textLength="159.9" lengthAdjust="spacingAndGlyphs">rtems/score/cpuatomic.h</text>
<text x="2259.3" y="588.6" textLength="134.9" lengthAdjust="spacingAndGlyphs">rtems/score/priority.h</text>
<text x="2492.3" y="588.6" textLength="180.9" lengthAdjust="spacingAndGlyphs">rtems/score/prioritybitmap.h</text>
<text x="535.8" y="663.1" textLength="162.9" lengthAdjust="spacingAndGlyphs">rtems/score/timestamp.h</text>
<text x="797.3" y="663.1" textLength="120.4" lengthAdjust="spacingAndGlyphs">rtems/score/smp.h</text>
<text x="1065.8" y="663.1" textLength="145.9" lengthAdjust="spacingAndGlyphs">rtems/score/smplock.h</text>
<text x="1258.8" y="663.1" textLength="135.9" lengthAdjust="spacingAndGlyphs">rtems/score/isrlevel.h</text>
<text x="1493.3" y="663.1" textLength="144.4" lengthAdjust="spacingAndGlyphs">rtems/score/address.h</text>
<text x="1684.8" y="663.1" textLength="126.7" lengthAdjust="spacingAndGlyphs">rtems/score/chain.h</text>
<text x="1858.1" y="663.1" textLength="139.8" lengthAdjust="spacingAndGlyphs">rtems/score/context.h</text>
<text x="277.3" y="737.9" textLength="136.4" lengthAdjust="spacingAndGlyphs">rtems/score/cpuset.h</text>
<text x="460.8" y="737.9" textLength="81.4" lengthAdjust="spacingAndGlyphs">rtems/fatal.h</text>
<text x="588.8" y="737.9" textLength="65.4" lengthAdjust="spacingAndGlyphs">sys/time.h</text>
<text x="900.8" y="737.9" textLength="131.9" lengthAdjust="spacingAndGlyphs">rtems/score/assert.h</text>
<text x="1688.8" y="737.9" textLength="116.1" lengthAdjust="spacingAndGlyphs">rtems/score/cpu.h</text>
<text x="2263.3" y="737.9" textLength="126.9" lengthAdjust="spacingAndGlyphs">rtems/score/stack.h</text>
<text x="2816.8" y="737.9" textLength="147.4" lengthAdjust="spacingAndGlyphs">rtems/score/sysstate.h</text>
<text x="681.3" y="812.6" textLength="125.9" lengthAdjust="spacingAndGlyphs">rtems/score/interr.h</text>
<text x="1368.3" y="812.6" textLength="151.4" lengthAdjust="spacingAndGlyphs">rtems/score/basedefs.h</text>
<text x="709.3" y="887.1" textLength="45.4" lengthAdjust="spacingAndGlyphs">limits.h</text>
<text x="1419.8" y="887.1" textLength="48.4" lengthAdjust="spacingAndGlyphs">stdint.h</text>
<text x="2276.3" y="887.1" textLength="47.9" lengthAdjust="spacingAndGlyphs">string.h</text>
</g>
</svg></body></html>
